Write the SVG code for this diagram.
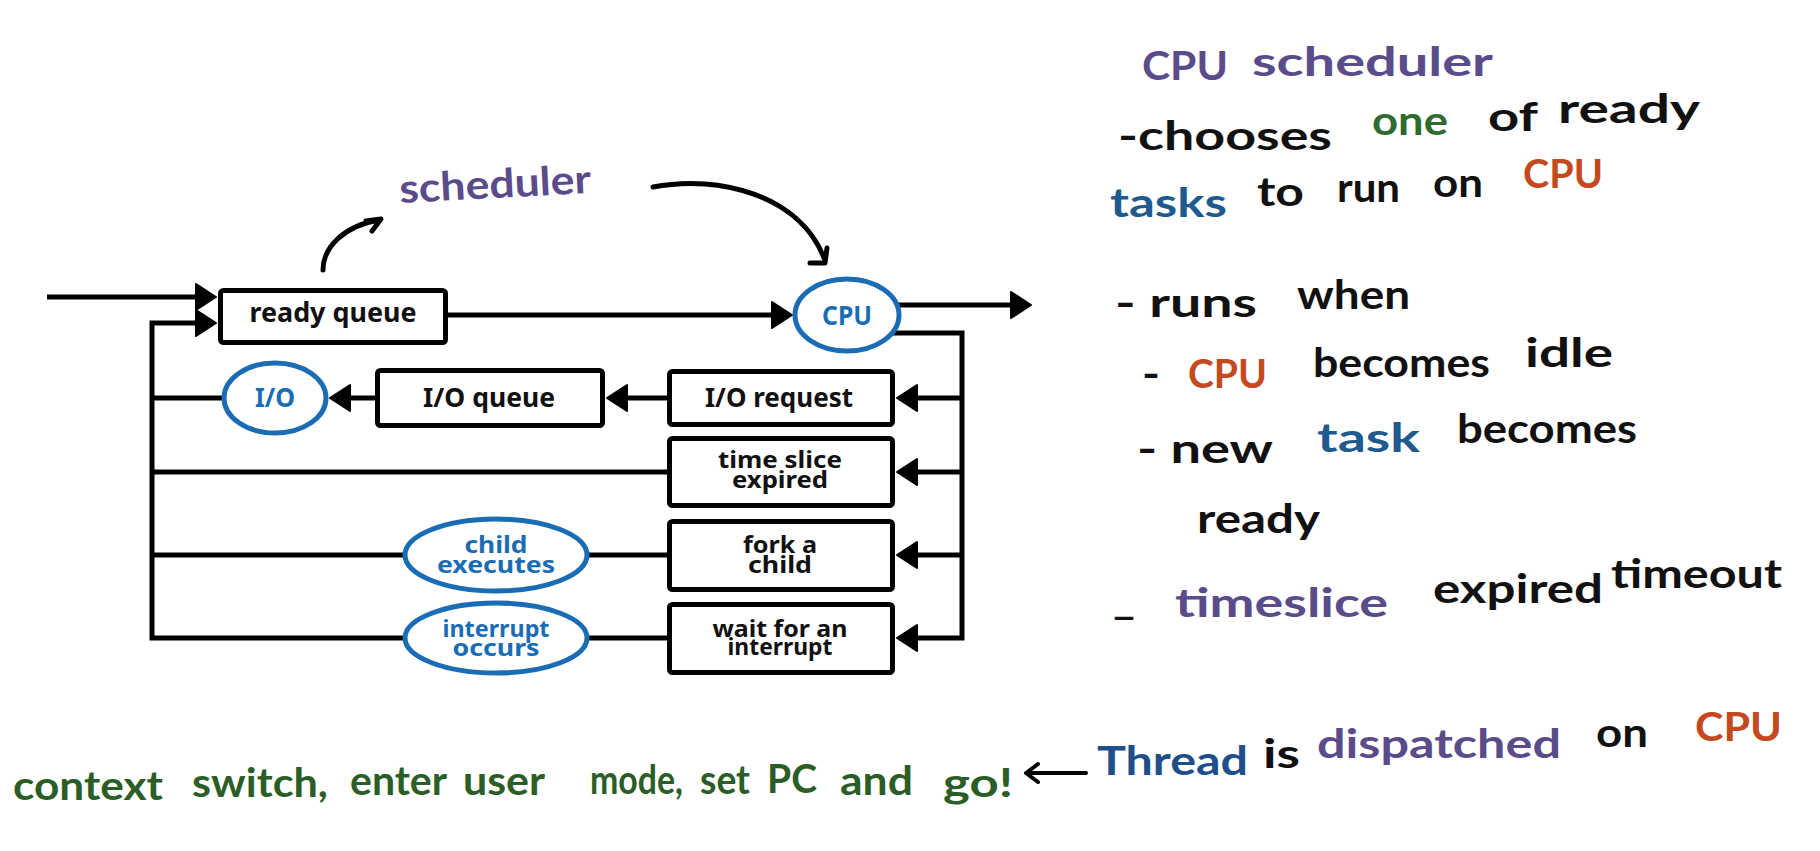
<svg xmlns="http://www.w3.org/2000/svg" width="1820" height="851" viewBox="0 0 1820 851">
<style>
.ln{fill:none;stroke:#000;stroke-width:5;stroke-linejoin:miter}
.arr{marker-end:url(#tri)}
.hand{fill:none;stroke:#000;stroke-width:5;stroke-linecap:round;stroke-linejoin:round}
.box{fill:#fff;stroke:#000;stroke-width:5}
.ell{fill:#fff;stroke:#1a6db5;stroke-width:5}
.bt{font-family:"Noto Sans","DejaVu Sans",sans-serif;font-weight:bold;fill:#111;text-anchor:middle}
.et{font-family:"Noto Sans","DejaVu Sans",sans-serif;font-weight:bold;fill:#1a6db5;text-anchor:middle}
.hw{font-family:Lato,"Open Sans",sans-serif;font-weight:bold;font-size:40px;fill:#111}
.pu{fill:#5a4b8a}.gr{fill:#2f6a30}.dg{fill:#2b5e26}.bl{fill:#1e5a8e}.or{fill:#c4491d}
</style>
<defs>
<marker id="tri" viewBox="0 0 20 26" refX="1" refY="13" markerWidth="20" markerHeight="26" markerUnits="userSpaceOnUse" orient="auto" overflow="visible"><path d="M0,0 L20,13 L0,26 z" fill="#000" stroke="#000" stroke-width="2" stroke-linejoin="round"/></marker>
</defs>
<rect width="1820" height="851" fill="#fff"/>
<g id="connectors">
<path class="ln arr" d="M47,297 H197"/>
<path class="ln arr" d="M667,638 H152 V323 H197"/>
<path class="ln" d="M667,555 H152"/>
<path class="ln" d="M667,472 H152"/>
<path class="ln" d="M224,398 H152"/>
<path class="ln arr" d="M448,315 H773"/>
<path class="ln arr" d="M870,305 H1012"/>
<path class="ln arr" d="M870,333 H962 V638 H916"/>
<path class="ln arr" d="M962,398 H916"/>
<path class="ln arr" d="M962,472 H916"/>
<path class="ln arr" d="M962,555 H916"/>
<path class="ln arr" d="M667,398 H626"/>
<path class="ln arr" d="M375,398 H349"/>
<path class="hand" d="M323,270 C323,248 343,226 379,220"/>
<path class="hand" d="M366,221 L381,219 L372,231"/>
<path class="hand" d="M653,187 C720,174 800,196 824,258"/>
<path class="hand" d="M810,263 L825,263 L827,248"/>
<path class="hand" style="stroke-width:4" d="M1086,773 H1027 M1038,764 L1026,773 L1038,782"/>
</g>
<g id="ready-queue"><rect class="box" x="220.5" y="290.5" width="225" height="52" rx="3"/><text class="bt" x="333" y="322" font-size="26" textLength="167" lengthAdjust="spacingAndGlyphs">ready queue</text></g>
<g id="cpu"><ellipse class="ell" cx="847" cy="315" rx="52" ry="36"/><text class="et" x="847" y="325" font-size="26" textLength="50" lengthAdjust="spacingAndGlyphs">CPU</text></g>
<g id="io-request"><rect class="box" x="669.5" y="371.5" width="223" height="53" rx="3"/><text class="bt" x="779" y="407" font-size="26" textLength="148" lengthAdjust="spacingAndGlyphs">I/O request</text></g>
<g id="io-queue"><rect class="box" x="377.5" y="370.5" width="225" height="55" rx="3"/><text class="bt" x="489" y="407" font-size="26" textLength="132" lengthAdjust="spacingAndGlyphs">I/O queue</text></g>
<g id="io"><ellipse class="ell" cx="275" cy="398" rx="51" ry="35"/><text class="et" x="275" y="407" font-size="26" textLength="40" lengthAdjust="spacingAndGlyphs">I/O</text></g>
<g id="time-slice"><rect class="box" x="669.5" y="438.5" width="223" height="67" rx="3"/><text class="bt" x="780" y="468" font-size="24" textLength="124" lengthAdjust="spacingAndGlyphs">time slice</text><text class="bt" x="780" y="488" font-size="24" textLength="96" lengthAdjust="spacingAndGlyphs">expired</text></g>
<g id="fork"><rect class="box" x="669.5" y="521.5" width="223" height="68" rx="3"/><text class="bt" x="780" y="553" font-size="24" textLength="74" lengthAdjust="spacingAndGlyphs">fork a</text><text class="bt" x="780" y="573" font-size="24" textLength="64" lengthAdjust="spacingAndGlyphs">child</text></g>
<g id="wait"><rect class="box" x="669.5" y="604.5" width="223" height="68" rx="3"/><text class="bt" x="780" y="637" font-size="24" textLength="135" lengthAdjust="spacingAndGlyphs">wait for an</text><text class="bt" x="780" y="655" font-size="24" textLength="105" lengthAdjust="spacingAndGlyphs">interrupt</text></g>
<g id="child-executes"><ellipse class="ell" cx="496" cy="555" rx="91" ry="36"/><text class="et" x="496" y="553" font-size="24" textLength="63" lengthAdjust="spacingAndGlyphs">child</text><text class="et" x="496" y="573" font-size="24" textLength="118" lengthAdjust="spacingAndGlyphs">executes</text></g>
<g id="interrupt-occurs"><ellipse class="ell" cx="496" cy="638" rx="91" ry="35"/><text class="et" x="496" y="637" font-size="24" textLength="107" lengthAdjust="spacingAndGlyphs">interrupt</text><text class="et" x="496" y="656" font-size="24" textLength="87" lengthAdjust="spacingAndGlyphs">occurs</text></g>
<g id="scheduler-label"><text class="hw pu" transform="rotate(-3 400 203)" x="400" y="203" font-size="38" textLength="192" lengthAdjust="spacingAndGlyphs">scheduler</text></g>
<g id="notes">
<text class="hw pu" x="1142" y="80" font-size="46" textLength="86" lengthAdjust="spacingAndGlyphs">CPU</text>
<text class="hw pu" x="1252" y="76" font-size="46" textLength="241" lengthAdjust="spacingAndGlyphs">scheduler</text>
<text class="hw" x="1118" y="150" textLength="214" lengthAdjust="spacingAndGlyphs">-chooses</text>
<text class="hw gr" x="1372" y="135" textLength="76" lengthAdjust="spacingAndGlyphs">one</text>
<text class="hw" x="1488" y="131" textLength="50" lengthAdjust="spacingAndGlyphs">of</text>
<text class="hw" x="1558" y="123" textLength="142" lengthAdjust="spacingAndGlyphs">ready</text>
<text class="hw bl" x="1110" y="217" textLength="117" lengthAdjust="spacingAndGlyphs">tasks</text>
<text class="hw" x="1257" y="206" textLength="47" lengthAdjust="spacingAndGlyphs">to</text>
<text class="hw" x="1337" y="202" textLength="63" lengthAdjust="spacingAndGlyphs">run</text>
<text class="hw" x="1433" y="197" textLength="50" lengthAdjust="spacingAndGlyphs">on</text>
<text class="hw or" x="1523" y="188" font-size="36" textLength="80" lengthAdjust="spacingAndGlyphs">CPU</text>
<text class="hw" x="1115" y="317" textLength="142" lengthAdjust="spacingAndGlyphs">- runs</text>
<text class="hw" x="1297" y="309" textLength="113" lengthAdjust="spacingAndGlyphs">when</text>
<text class="hw" x="1142" y="388" textLength="18" lengthAdjust="spacingAndGlyphs">-</text>
<text class="hw or" x="1188" y="388" font-size="36" textLength="79" lengthAdjust="spacingAndGlyphs">CPU</text>
<text class="hw" x="1313" y="377" textLength="177" lengthAdjust="spacingAndGlyphs">becomes</text>
<text class="hw" x="1525" y="367" textLength="88" lengthAdjust="spacingAndGlyphs">idle</text>
<text class="hw" x="1137" y="463" textLength="136" lengthAdjust="spacingAndGlyphs">- new</text>
<text class="hw bl" x="1317" y="452" textLength="103" lengthAdjust="spacingAndGlyphs">task</text>
<text class="hw" x="1457" y="443" textLength="180" lengthAdjust="spacingAndGlyphs">becomes</text>
<text class="hw" x="1197" y="533" textLength="123" lengthAdjust="spacingAndGlyphs">ready</text>
<text class="hw" x="1113" y="614" textLength="22" lengthAdjust="spacingAndGlyphs">_</text>
<text class="hw pu" x="1175" y="617" textLength="213" lengthAdjust="spacingAndGlyphs">timeslice</text>
<text class="hw" x="1433" y="603" textLength="170" lengthAdjust="spacingAndGlyphs">expired</text>
<text class="hw" x="1611" y="588" textLength="171" lengthAdjust="spacingAndGlyphs">timeout</text>
</g>
<g id="dispatch-note">
<text class="hw dg" x="13" y="800" font-size="46" textLength="150" lengthAdjust="spacingAndGlyphs">context</text>
<text class="hw dg" x="192" y="797" font-size="46" textLength="136" lengthAdjust="spacingAndGlyphs">switch,</text>
<text class="hw dg" x="350" y="795" font-size="46" textLength="97" lengthAdjust="spacingAndGlyphs">enter</text>
<text class="hw dg" x="463" y="795" font-size="46" textLength="82" lengthAdjust="spacingAndGlyphs">user</text>
<text class="hw dg" x="590" y="794" font-size="46" textLength="93" lengthAdjust="spacingAndGlyphs">mode,</text>
<text class="hw dg" x="700" y="794" font-size="46" textLength="50" lengthAdjust="spacingAndGlyphs">set</text>
<text class="hw dg" x="767" y="793" font-size="46" textLength="50" lengthAdjust="spacingAndGlyphs">PC</text>
<text class="hw dg" x="840" y="795" font-size="46" textLength="73" lengthAdjust="spacingAndGlyphs">and</text>
<text class="hw dg" x="943" y="797" font-size="46" textLength="70" lengthAdjust="spacingAndGlyphs">go!</text>
<text class="hw" x="1097" y="775" font-size="46" fill="#1f4f8a" textLength="151" lengthAdjust="spacingAndGlyphs" style="fill:#1f4f8a">Thread</text>
<text class="hw" x="1263" y="768" font-size="46" textLength="37" lengthAdjust="spacingAndGlyphs">is</text>
<text class="hw pu" x="1317" y="758" font-size="46" textLength="244" lengthAdjust="spacingAndGlyphs">dispatched</text>
<text class="hw" x="1596" y="747" font-size="46" textLength="52" lengthAdjust="spacingAndGlyphs">on</text>
<text class="hw or" x="1695" y="741" font-size="42" textLength="87" lengthAdjust="spacingAndGlyphs">CPU</text>
</g>
</svg>
